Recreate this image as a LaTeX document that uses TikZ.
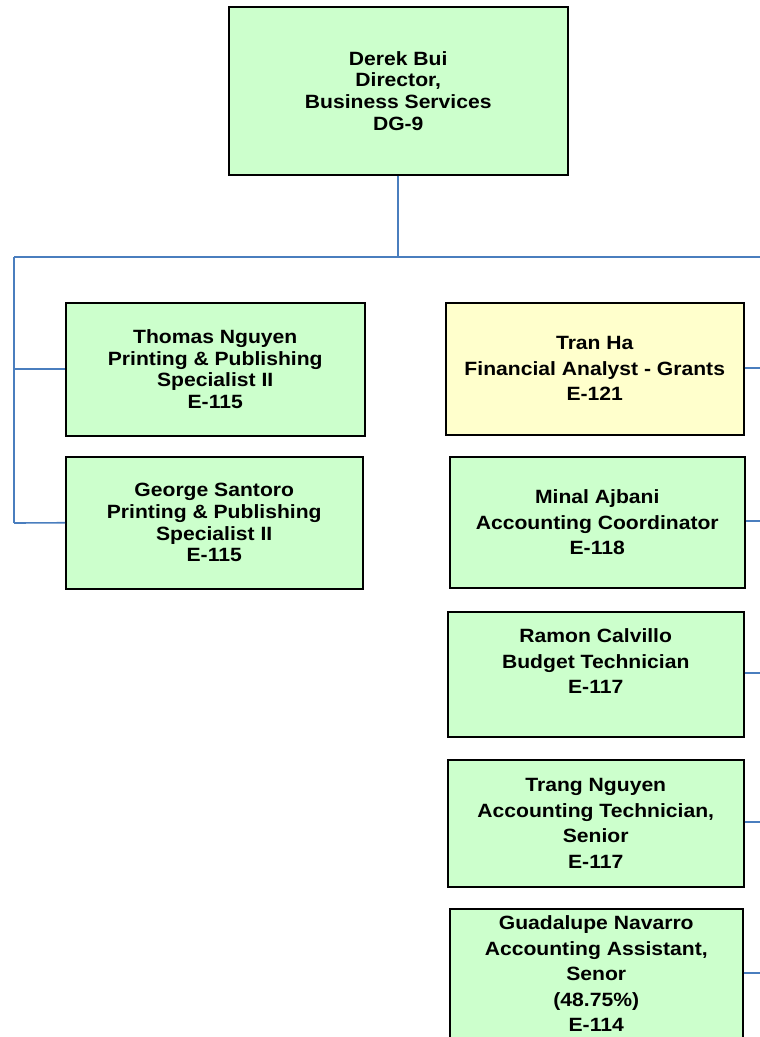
\documentclass[tikz,border=0pt]{standalone}
\usepackage{fontspec}
\setmainfont{Liberation Sans}[FakeStretch=1.1]
\begin{document}
\begin{tikzpicture}[x=1pt,y=-1pt,
  box/.style={draw=black, line width=1.5pt, anchor=north west, align=center,
    inner sep=0pt, font=\fontsize{19.2}{21.7}\selectfont\bfseries},
  wide/.style={font=\fontsize{19.2}{25.5}\selectfont\bfseries},
  green/.style={fill={rgb,255:red,204;green,255;blue,204}},
  yellow/.style={fill={rgb,255:red,255;green,255;blue,204}},
  conn/.style={draw={rgb,255:red,74;green,126;blue,190}, line width=2pt},
  thinconn/.style={draw={rgb,255:red,74;green,126;blue,190}, line width=1.6pt}]
\path[use as bounding box] (0,0) rectangle (760,1037);
\clip (0,0) rectangle (760,1037);

\node[box,green,minimum width=339pt,minimum height=168pt] (dir) at (228,6)
  {Derek Bui\\Director,\\Business Services\\DG-9};

\node[box,green,minimum width=299pt,minimum height=133pt] (thomas) at (65,302)
  {Thomas Nguyen\\Printing \& Publishing\\Specialist II\\E-115};
\node[box,green,minimum width=297pt,minimum height=132pt] (george) at (65,456)
  {George Santoro\\Printing \& Publishing\\Specialist II\\E-115};

\node[box,yellow,wide,minimum width=298pt,minimum height=132pt] (tran) at (445,302)
  {Tran Ha\\Financial Analyst - Grants\\E-121};
\node[box,green,wide,minimum width=295pt,minimum height=131pt] (minal) at (449,456)
  {Minal Ajbani\\Accounting Coordinator\\E-118};
\node[box,green,wide,minimum width=296pt,minimum height=125pt] (ramon) at (447,611)
  {Ramon Calvillo\\Budget Technician\\E-117\\\mbox{}};
\node[box,green,wide,minimum width=296pt,minimum height=127pt] (trang) at (447,759)
  {Trang Nguyen\\Accounting Technician,\\Senior\\E-117};
\node[box,green,wide,minimum width=293pt,minimum height=130pt] (guad) at (449,908)
  {Guadalupe Navarro\\Accounting Assistant,\\Senor\\(48.75\%)\\E-114};

\coordinate (bus) at (397.5,257);
\coordinate (busL) at (14,257);
\coordinate (busR) at (765,257);
\coordinate (leftEnd) at (14,523);

\draw[conn] (dir.south) -- (dir.south |- bus);
\draw[conn] (busL) -- (busR);
\draw[thinconn] (busL) -- (leftEnd);
\draw[thinconn] (busL |- thomas.west) -- (thomas.west);
\draw[thinconn] (leftEnd) -- (george.west);

\coordinate (r1) at (765,368);
\coordinate (r2) at (765,521);
\coordinate (r3) at (765,673);
\coordinate (r4) at (765,822);
\coordinate (r5) at (765,973);
\draw[thinconn] (tran.east |- r1) -- (r1);
\draw[thinconn] (minal.east |- r2) -- (r2);
\draw[thinconn] (ramon.east |- r3) -- (r3);
\draw[thinconn] (trang.east |- r4) -- (r4);
\draw[thinconn] (guad.east |- r5) -- (r5);
\end{tikzpicture}
\end{document}
